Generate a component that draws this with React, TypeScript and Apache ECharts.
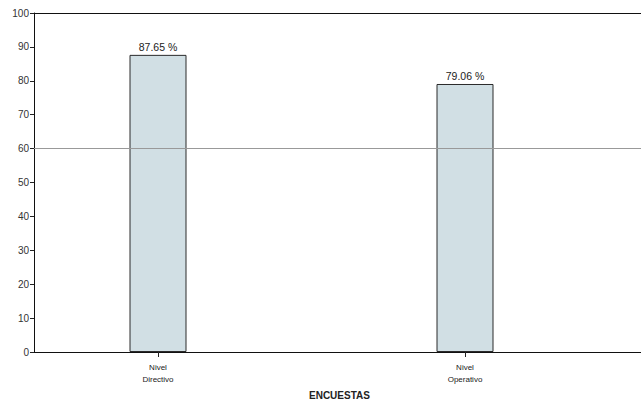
import React, { useEffect, useRef } from "react";
import * as echarts from "echarts";

const categories = ["Nivel\nDirectivo", "Nivel\nOperativo"];
const values = [87.65, 79.06];
const yTicks = [0, 100, 10]; // min, max, interval
const refLine = 60;
const axisTitle = "ENCUESTAS";

export default function App() {
  const ref = useRef<HTMLDivElement>(null);
  useEffect(() => {
    if (!ref.current) return;
    const chart = echarts.init(ref.current, null, { renderer: "svg" });
    const font = "Liberation Sans, Arial, sans-serif";
    chart.setOption({
      animation: false,
      backgroundColor: "#ffffff",
      textStyle: { fontFamily: font },
      grid: [
        { left: 34, right: 0, top: 13, bottom: 52 },
        { left: 4.5, right: 22.5, top: 13, bottom: 52 },
      ],
      xAxis: [
        {
          gridIndex: 0,
          type: "category",
          data: ["a"],
          axisLine: { show: true, lineStyle: { color: "#111" } },
          axisTick: { show: false },
          axisLabel: { show: false },
        },
        {
          gridIndex: 1,
          type: "category",
          data: categories,
          axisLine: { show: false },
          axisTick: { show: true, alignWithLabel: true, length: 5, lineStyle: { color: "#222" } },
          axisLabel: { fontSize: 8, lineHeight: 12, color: "#222", margin: 9, fontFamily: font },
        },
        {
          gridIndex: 0,
          type: "category",
          position: "top",
          data: ["a"],
          axisLine: { show: true, lineStyle: { color: "#111" } },
          axisTick: { show: false },
          axisLabel: { show: false },
        },
      ],
      yAxis: [
        {
          gridIndex: 0,
          type: "value",
          min: yTicks[0],
          max: yTicks[1],
          interval: yTicks[2],
          axisLine: { show: true, lineStyle: { color: "#111" } },
          axisTick: { show: true, length: 4, lineStyle: { color: "#222" } },
          axisLabel: { fontSize: 10, color: "#333", margin: 5, fontFamily: font },
          splitLine: { show: false },
        },
        {
          gridIndex: 1,
          type: "value",
          min: yTicks[0],
          max: yTicks[1],
          show: false,
          splitLine: { show: false },
        },
      ],
      graphic: [
        {
          type: "text",
          left: 309,
          top: 390,
          style: { text: axisTitle, fontSize: 10, fontWeight: "bold", fill: "#222", fontFamily: font },
        },
      ],
      series: [
        {
          type: "line",
          xAxisIndex: 0,
          yAxisIndex: 0,
          data: [],
          markLine: {
            silent: true,
            symbol: "none",
            label: { show: false },
            lineStyle: { color: "#999", type: "solid", width: 1 },
            data: [{ yAxis: refLine }],
          },
        },
        {
          type: "bar",
          xAxisIndex: 1,
          yAxisIndex: 1,
          data: values,
          barWidth: 57,
          itemStyle: { color: "#d1dfe4", borderColor: "#2a2a2a", borderWidth: 1 },
          label: {
            show: true,
            position: "top",
            distance: 2,
            fontSize: 10.5,
            color: "#222",
            fontFamily: font,
            formatter: (p: any) => p.value.toFixed(2) + " %",
          },
        },
      ],
    });
    return () => chart.dispose();
  }, []);
  return <div ref={ref} style={{ position: "fixed", left: 0, top: 0, width: 641, height: 404 }} />;
}
